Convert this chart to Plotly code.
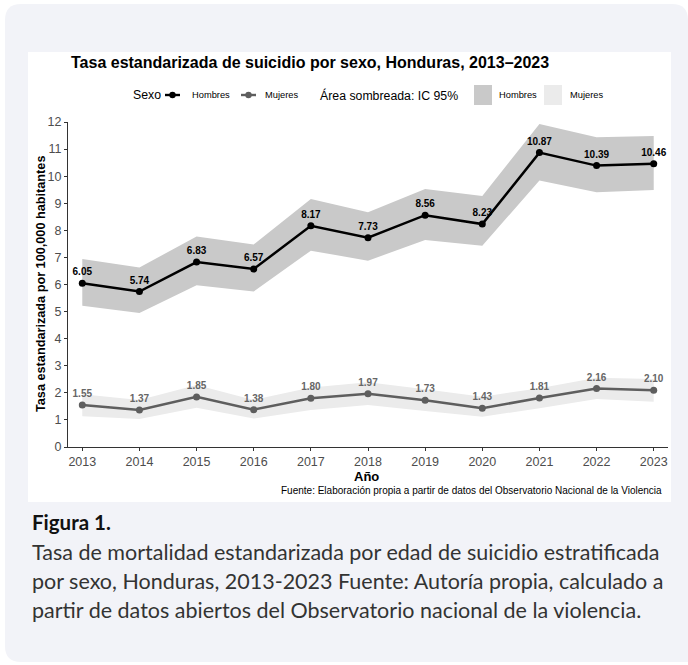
import plotly.graph_objects as go

# ---------------- data ----------------
years = [2013, 2014, 2015, 2016, 2017, 2018, 2019, 2020, 2021, 2022, 2023]
hombres = [6.05, 5.74, 6.83, 6.57, 8.17, 7.73, 8.56, 8.23, 10.87, 10.39, 10.46]
hombres_lo = [5.22, 4.95, 5.97, 5.74, 7.25, 6.88, 7.64, 7.43, 9.84, 9.41, 9.49]
hombres_hi = [6.94, 6.63, 7.77, 7.48, 9.16, 8.67, 9.53, 9.27, 11.93, 11.44, 11.48]
mujeres = [1.55, 1.37, 1.85, 1.38, 1.80, 1.97, 1.73, 1.43, 1.81, 2.16, 2.10]
mujeres_lo = [1.14, 1.03, 1.45, 1.05, 1.37, 1.55, 1.33, 1.12, 1.43, 1.77, 1.67]
mujeres_hi = [1.95, 1.74, 2.29, 1.74, 2.20, 2.39, 2.13, 1.86, 2.17, 2.56, 2.51]
y_ticks = list(range(0, 13))

title_text = "Tasa estandarizada de suicidio por sexo, Honduras, 2013–2023"
ytitle_text = "Tasa estandarizada por 100,000 habitantes"
xtitle_text = "Año"
source_text = "Fuente: Elaboración propia a partir de datos del Observatorio Nacional de la Violencia"
caption_title = "Figura 1."
caption_lines = [
    "Tasa de mortalidad estandarizada por edad de suicidio estratificada",
    "por sexo, Honduras, 2013-2023 Fuente: Autoría propia, calculado a",
    "partir de datos abiertos del Observatorio nacional de la violencia.",
]

# ---------------- layout geometry (pixels) ----------------
W, H = 688, 665
ML, MR, MT, MB = 68, 20, 122, 218
PW, PH = W - ML - MR, H - MT - MB


def px(x):
    return (x - ML) / PW


def py(y):
    return (H - MB - y) / PH


FONT = "Liberation Sans, Arial, sans-serif"
CAP_FONT = "Lato, Inter, sans-serif"
C_H_FILL = "#C9C9C9"
C_M_FILL = "#EBEBEB"
C_M_LINE = "#5E5E5E"

fig = go.Figure()

# confidence bands
fig.add_trace(go.Scatter(x=years, y=hombres_lo, mode="lines", line=dict(width=0),
                         hoverinfo="skip", showlegend=False))
fig.add_trace(go.Scatter(x=years, y=hombres_hi, mode="lines", line=dict(width=0),
                         fill="tonexty", fillcolor=C_H_FILL, hoverinfo="skip", showlegend=False))
fig.add_trace(go.Scatter(x=years, y=mujeres_lo, mode="lines", line=dict(width=0),
                         hoverinfo="skip", showlegend=False))
fig.add_trace(go.Scatter(x=years, y=mujeres_hi, mode="lines", line=dict(width=0),
                         fill="tonexty", fillcolor=C_M_FILL, hoverinfo="skip", showlegend=False))

# lines
fig.add_trace(go.Scatter(
    x=years, y=hombres, mode="lines+markers+text", name="Hombres",
    line=dict(color="black", width=2.5), marker=dict(color="black", size=7),
    text=[f"{v:.2f}" for v in hombres], textposition="top center",
    textfont=dict(family=FONT, size=10, color="black", weight="bold"),
    showlegend=False, cliponaxis=False))
fig.add_trace(go.Scatter(
    x=years, y=mujeres, mode="lines+markers+text", name="Mujeres",
    line=dict(color=C_M_LINE, width=2.5), marker=dict(color=C_M_LINE, size=7),
    text=[f"{v:.2f}" for v in mujeres], textposition="top center",
    textfont=dict(family=FONT, size=10, color="#666666", weight="bold"),
    showlegend=False, cliponaxis=False))

shapes = []
# card background
r = 16
x0, x1, y0, y1 = 5, 688, 4, 662
card = (f"M {px(x0)} {py(y0 + r)} Q {px(x0)} {py(y0)} {px(x0 + r)} {py(y0)} "
        f"L {px(x1 - r)} {py(y0)} Q {px(x1)} {py(y0)} {px(x1)} {py(y0 + r)} "
        f"L {px(x1)} {py(y1)} L {px(x0 + r)} {py(y1)} "
        f"Q {px(x0)} {py(y1)} {px(x0)} {py(y1 - r)} Z")
shapes.append(dict(type="path", path=card, xref="paper", yref="paper",
                   fillcolor="#F2F3F8", line=dict(width=0), layer="below"))
# white figure panel
shapes.append(dict(type="rect", xref="paper", yref="paper",
                   x0=px(28), x1=px(671), y0=py(502), y1=py(52),
                   fillcolor="white", line=dict(width=0), layer="below"))

# legend keys
LY = 95
for (a, b, col) in [(165, 180, "black"), (241, 256, C_M_LINE)]:
    shapes.append(dict(type="line", xref="paper", yref="paper",
                       x0=px(a), x1=px(b), y0=py(LY), y1=py(LY),
                       line=dict(color=col, width=2.4)))
    cx = (a + b) / 2
    shapes.append(dict(type="circle", xref="paper", yref="paper",
                       x0=px(cx - 3.2), x1=px(cx + 3.2), y0=py(LY + 3.2), y1=py(LY - 3.2),
                       fillcolor=col, line=dict(width=0)))
for (a, b, col) in [(474, 492, C_H_FILL), (544, 562, C_M_FILL)]:
    shapes.append(dict(type="rect", xref="paper", yref="paper",
                       x0=px(a), x1=px(b), y0=py(LY + 10), y1=py(LY - 10),
                       fillcolor=col, line=dict(width=0)))

ann = []


def text(x, y, s, size, color="black", bold=False, xanchor="left", family=FONT, angle=0):
    ann.append(dict(x=px(x), y=py(y), xref="paper", yref="paper", text=s,
                    showarrow=False, xanchor=xanchor, yanchor="middle", textangle=angle,
                    font=dict(family=family, size=size, color=color,
                              weight="bold" if bold else "normal")))


text(69, 63, title_text, 16, bold=True)
text(131, 95, "Sexo", 12.3)
text(190, 95, "Hombres", 9.3)
text(263, 95, "Mujeres", 9.3)
text(318, 95, "Área sombreada: IC 95%", 12.3)
text(497, 95, "Hombres", 9.3)
text(568, 95, "Mujeres", 9.3)
text(41, 284, ytitle_text, 12.7, bold=True, xanchor="center", angle=-90)
text(366, 476, xtitle_text, 13, bold=True, xanchor="center")
text(664, 490, source_text, 10, xanchor="right")
text(30, 522, caption_title, 20.5, color="#111111", bold=True, family=CAP_FONT)
for i, line in enumerate(caption_lines):
    text(30, 552 + 29 * i, line, 21.5, color="#333333", family=CAP_FONT)

axis_common = dict(showline=True, linecolor="#333333", linewidth=1, ticks="outside",
                   ticklen=3, tickcolor="#333333", showgrid=False, zeroline=False,
                   tickfont=dict(family=FONT, size=12.5, color="#4D4D4D"))

fig.update_layout(
    width=W, height=H, margin=dict(l=ML, r=MR, t=MT, b=MB, autoexpand=False),
    paper_bgcolor="white", plot_bgcolor="rgba(0,0,0,0)",
    showlegend=False, shapes=shapes, annotations=ann,
    xaxis=dict(range=[2012.75, 2023.25], tickvals=years, **axis_common),
    yaxis=dict(range=[0, 12], tickvals=y_ticks, **axis_common),
)

fig.write_html("out.html")
